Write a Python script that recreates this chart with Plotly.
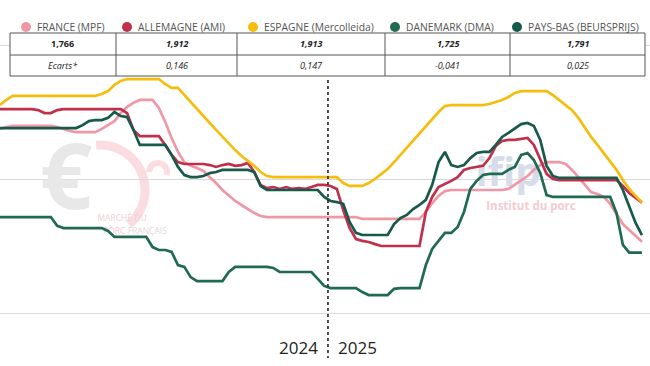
import math
import plotly.graph_objects as go

# ---------------- data (€/kg, weekly, 2024 weeks 1-52 then 2025) ----------------
weeks = list(range(1, 103))
year_labels = ["2024", "2025"]
series_names = ["FRANCE (MPF)", "ALLEMAGNE (AMI)", "ESPAGNE (Mercolleida)",
                "DANEMARK (DMA)", "PAYS-BAS (BEURSPRIJS)"]
gap_label = "Ecarts*"

france = [
    2.187, 2.194, 2.198, 2.198, 2.198, 2.198, 2.198, 2.198, 2.198, 2.194,
    2.187, 2.179, 2.175, 2.175, 2.175, 2.175, 2.187, 2.201, 2.216, 2.246,
    2.269, 2.284, 2.295, 2.295, 2.295, 2.265, 2.213, 2.153, 2.101, 2.063,
    2.049, 2.041, 2.030, 2.007, 1.985, 1.959, 1.937, 1.918, 1.903, 1.888,
    1.873, 1.862, 1.858, 1.858, 1.858, 1.858, 1.858, 1.858, 1.858, 1.858,
    1.858, 1.858, 1.858, 1.858, 1.858, 1.858, 1.858, 1.851, 1.851, 1.851,
    1.851, 1.851, 1.851, 1.851, 1.851, 1.851, 1.851, 1.877, 1.910, 1.937,
    1.955, 1.959, 1.959, 1.959, 1.959, 1.959, 1.959, 1.959, 1.959, 1.959,
    1.963, 1.978, 1.996, 2.011, 2.034, 2.052, 2.063, 2.063, 2.063, 2.056,
    2.034, 2.007, 1.978, 1.951, 1.944, 1.933, 1.907, 1.869, 1.832, 1.810,
    1.787, 1.766]

germany = [
    2.261, 2.261, 2.261, 2.261, 2.261, 2.261, 2.257, 2.246, 2.246, 2.257,
    2.261, 2.261, 2.261, 2.261, 2.261, 2.261, 2.261, 2.261, 2.261, 2.261,
    2.246, 2.183, 2.160, 2.160, 2.160, 2.160, 2.127, 2.090, 2.063, 2.056,
    2.056, 2.056, 2.056, 2.052, 2.045, 2.052, 2.056, 2.049, 2.052, 2.060,
    2.026, 1.978, 1.966, 1.970, 1.963, 1.970, 1.963, 1.966, 1.963, 1.970,
    1.978, 1.978, 1.974, 1.963, 1.884, 1.817, 1.776, 1.769, 1.765, 1.757,
    1.750, 1.750, 1.750, 1.750, 1.750, 1.750, 1.750, 1.877, 1.933, 1.970,
    1.981, 1.993, 2.007, 2.034, 2.041, 2.045, 2.049, 2.078, 2.123, 2.142,
    2.146, 2.146, 2.149, 2.153, 2.127, 2.071, 2.019, 2.000, 1.996, 1.996,
    1.996, 1.996, 1.996, 1.996, 1.996, 1.996, 1.996, 1.996, 1.974, 1.948,
    1.929, 1.912]

spain = [
    2.276, 2.295, 2.310, 2.310, 2.310, 2.310, 2.310, 2.310, 2.310, 2.310,
    2.310, 2.310, 2.310, 2.310, 2.310, 2.310, 2.317, 2.328, 2.351, 2.366,
    2.373, 2.373, 2.373, 2.373, 2.373, 2.373, 2.354, 2.340, 2.340, 2.313,
    2.287, 2.261, 2.235, 2.209, 2.183, 2.157, 2.131, 2.108, 2.086, 2.067,
    2.049, 2.026, 2.011, 2.007, 2.007, 2.007, 2.007, 2.007, 2.007, 2.007,
    2.007, 2.007, 2.007, 2.007, 1.985, 1.974, 1.974, 1.974, 1.985, 2.000,
    2.019, 2.037, 2.063, 2.090, 2.116, 2.146, 2.172, 2.198, 2.224, 2.250,
    2.272, 2.276, 2.276, 2.276, 2.276, 2.276, 2.276, 2.280, 2.287, 2.295,
    2.306, 2.321, 2.328, 2.328, 2.328, 2.328, 2.328, 2.313, 2.295, 2.276,
    2.257, 2.228, 2.190, 2.157, 2.127, 2.097, 2.063, 2.034, 1.996, 1.963,
    1.937, 1.913]

denmark = [
    1.858, 1.858, 1.858, 1.858, 1.858, 1.858, 1.858, 1.858, 1.858, 1.825,
    1.817, 1.817, 1.817, 1.817, 1.817, 1.817, 1.817, 1.806, 1.784, 1.784,
    1.784, 1.784, 1.784, 1.784, 1.746, 1.735, 1.735, 1.728, 1.679, 1.672,
    1.634, 1.619, 1.619, 1.619, 1.619, 1.619, 1.653, 1.672, 1.672, 1.672,
    1.672, 1.672, 1.672, 1.668, 1.653, 1.653, 1.653, 1.653, 1.653, 1.653,
    1.627, 1.601, 1.593, 1.593, 1.593, 1.593, 1.593, 1.578, 1.567, 1.567,
    1.567, 1.567, 1.590, 1.593, 1.593, 1.593, 1.593, 1.679, 1.739, 1.769,
    1.799, 1.799, 1.821, 1.877, 1.963, 1.993, 2.015, 2.019, 2.019, 2.019,
    2.034, 2.045, 2.090, 2.097, 2.071, 2.022, 1.940, 1.933, 1.933, 1.933,
    1.933, 1.933, 1.933, 1.933, 1.933, 1.933, 1.933, 1.873, 1.754, 1.725,
    1.725, 1.725]

netherlands = [
    2.190, 2.190, 2.190, 2.190, 2.190, 2.190, 2.190, 2.190, 2.190, 2.190,
    2.190, 2.190, 2.190, 2.201, 2.216, 2.220, 2.220, 2.228, 2.250, 2.235,
    2.231, 2.183, 2.127, 2.127, 2.127, 2.127, 2.127, 2.090, 2.045, 2.015,
    2.007, 2.007, 2.011, 2.022, 2.026, 2.034, 2.034, 2.034, 2.034, 2.034,
    2.026, 1.974, 1.959, 1.959, 1.959, 1.959, 1.959, 1.959, 1.959, 1.959,
    1.959, 1.933, 1.918, 1.914, 1.907, 1.840, 1.799, 1.791, 1.791, 1.791,
    1.791, 1.791, 1.832, 1.854, 1.866, 1.888, 1.903, 1.922, 1.978, 2.063,
    2.101, 2.052, 2.045, 2.052, 2.078, 2.097, 2.101, 2.101, 2.127, 2.157,
    2.172, 2.187, 2.205, 2.209, 2.198, 2.146, 2.049, 2.011, 2.004, 2.004,
    2.004, 2.004, 2.004, 2.004, 2.004, 2.004, 2.004, 2.004, 1.959, 1.899,
    1.836, 1.791]

# ---------------- styling ----------------
colors = ["#EF97A5", "#C1304A", "#F6BD0F", "#1E6A52", "#17594A"]
FONT = "Open Sans"
W, H = 650, 366
PLOT_H = 330          # plot area height in px (top margin 0)
PX_PER_WEEK = 6.356
Y_REF, Y_REF_PX, PX_PER_UNIT = 2.0, 179, 268


def xd(px):
    return 1 + px / PX_PER_WEEK


def yd(py):
    return Y_REF - (py - Y_REF_PX) / PX_PER_UNIT


def xp(px):
    return px / W


def yp(py):
    return (PLOT_H - py) / PLOT_H


all_series = [france, germany, spain, denmark, netherlands]

fig = go.Figure()

# watermark texts (drawn first so they sit behind the price lines)
wm_pos = [(66, 186), (508, 176), (531, 207), (122, 219), (135, 232)]
wm_text = ["<b>€</b>", "<b>ifip</b>", "<b>Institut du porc</b>", "MARCHÉ DU",
           "<span style='color:#f2c9cf'>PORC</span> FRANÇAIS"]
wm_size = [92, 40, 11.5, 8.5, 8.5]
wm_color = ["#e8e8e8", "#d6dce8", "#f4cbd2", "#ead2d5", "#e2dadb"]
fig.add_trace(go.Scatter(
    x=[xd(p[0]) for p in wm_pos], y=[yd(p[1]) for p in wm_pos],
    mode="text", text=wm_text, textposition="middle center",
    textfont=dict(family=FONT, size=wm_size, color=wm_color),
    hoverinfo="skip", showlegend=False))

for name, vals, col in zip(series_names, all_series, colors):
    fig.add_trace(go.Scatter(
        x=weeks, y=vals, mode="lines", name=name,
        line=dict(color=col, width=2.7), showlegend=False))

shapes = []

# pink arc of the watermark logo
arc = []
for i in range(41):
    a = math.radians(-95 + i * (145 / 40))
    arc.append((100 + 45 * math.cos(a), 190 + 45 * math.sin(a)))
path = "M " + " L ".join(f"{xd(px):.4f},{yd(py):.4f}" for px, py in arc)
shapes.append(dict(type="path", path=path, xref="x", yref="y", layer="below",
                   line=dict(color="#fbdde1", width=9)))
hook = []
for i in range(21):
    a = math.radians(180 + i * (200 / 20))
    hook.append((158 + 9 * math.cos(a), 172 + 9 * math.sin(a)))
path2 = "M " + " L ".join(f"{xd(px):.4f},{yd(py):.4f}" for px, py in hook)
shapes.append(dict(type="path", path=path2, xref="x", yref="y", layer="below",
                   line=dict(color="#fbdde1", width=6)))

# year boundary dotted line
shapes.append(dict(type="line", xref="x", yref="paper",
                   x0=52.6, x1=52.6, y0=yp(80), y1=yp(358),
                   line=dict(color="#222222", width=1.6, dash="dot"), layer="above"))

# table
tab_x = [10, 116, 237, 385, 510, 645]
tab_y = [33, 55, 76]
shapes.append(dict(type="rect", xref="paper", yref="paper",
                   x0=xp(tab_x[0]), x1=xp(tab_x[-1]), y0=yp(tab_y[0]), y1=yp(tab_y[-1]),
                   fillcolor="white", line=dict(color="#555555", width=1), layer="above"))
shapes.append(dict(type="line", xref="paper", yref="paper",
                   x0=xp(tab_x[0]), x1=xp(tab_x[-1]), y0=yp(tab_y[1]), y1=yp(tab_y[1]),
                   line=dict(color="#555555", width=1), layer="above"))
for cx in tab_x[1:-1]:
    shapes.append(dict(type="line", xref="paper", yref="paper",
                       x0=xp(cx), x1=xp(cx), y0=yp(tab_y[0]), y1=yp(tab_y[-1]),
                       line=dict(color="#555555", width=1), layer="above"))

annotations = []
last_vals = [s[-1] for s in all_series]
ref = last_vals[0]


def fr(v):
    return f"{v:.3f}".replace(".", ",")


row1 = ["<b>" + fr(last_vals[0]) + "</b>"] + ["<b><i>" + fr(v) + "</i></b>" for v in last_vals[1:]]
row2 = ["<i>" + gap_label + "</i>"] + ["<i>" + fr(v - ref) + "</i>" for v in last_vals[1:]]
for i in range(5):
    cx = (tab_x[i] + tab_x[i + 1]) / 2
    for txt, cy in ((row1[i], 44), (row2[i], 65.5)):
        annotations.append(dict(xref="paper", yref="paper", x=xp(cx), y=yp(cy),
                                text=txt, showarrow=False, xanchor="center", yanchor="middle",
                                font=dict(family=FONT, size=9, color="#222222")))

# legend (circles + labels)
leg_marker_x = [26, 127, 253, 395, 517]
for name, col, mx in zip(series_names, colors, leg_marker_x):
    shapes.append(dict(type="circle", xref="paper", yref="paper",
                       x0=xp(mx - 5), x1=xp(mx + 5), y0=yp(22), y1=yp(32),
                       fillcolor=col, line=dict(width=0), layer="above"))
    annotations.append(dict(xref="paper", yref="paper", x=xp(mx + 9), y=yp(27),
                            text=name, showarrow=False, xanchor="left", yanchor="middle",
                            font=dict(family=FONT, size=10.3, color="#555555")))

# year labels
annotations.append(dict(xref="x", yref="paper", x=xd(320), y=yp(348), text=year_labels[0],
                        showarrow=False, xanchor="right", yanchor="middle",
                        font=dict(family=FONT, size=17, color="#222222")))
annotations.append(dict(xref="x", yref="paper", x=xd(336), y=yp(348), text=year_labels[1],
                        showarrow=False, xanchor="left", yanchor="middle",
                        font=dict(family=FONT, size=17, color="#222222")))

fig.update_layout(
    width=W, height=H,
    margin=dict(l=0, r=0, t=0, b=H - PLOT_H, autoexpand=False),
    paper_bgcolor="white", plot_bgcolor="white",
    showlegend=False, hovermode=False,
    shapes=shapes, annotations=annotations,
    xaxis=dict(range=[xd(0), xd(W)], showgrid=False, zeroline=False,
               showticklabels=False, showline=False, ticks=""),
    yaxis=dict(range=[yd(PLOT_H), yd(0)], showgrid=True, gridcolor="#d9d9d9", gridwidth=1,
               tick0=0, dtick=0.5, zeroline=False, showticklabels=False,
               showline=False, ticks=""),
    font=dict(family=FONT),
)

fig.write_html("out.html", config={"displayModeBar": False},
               post_script="document.body.style.margin='0';document.body.style.overflow='hidden';")
